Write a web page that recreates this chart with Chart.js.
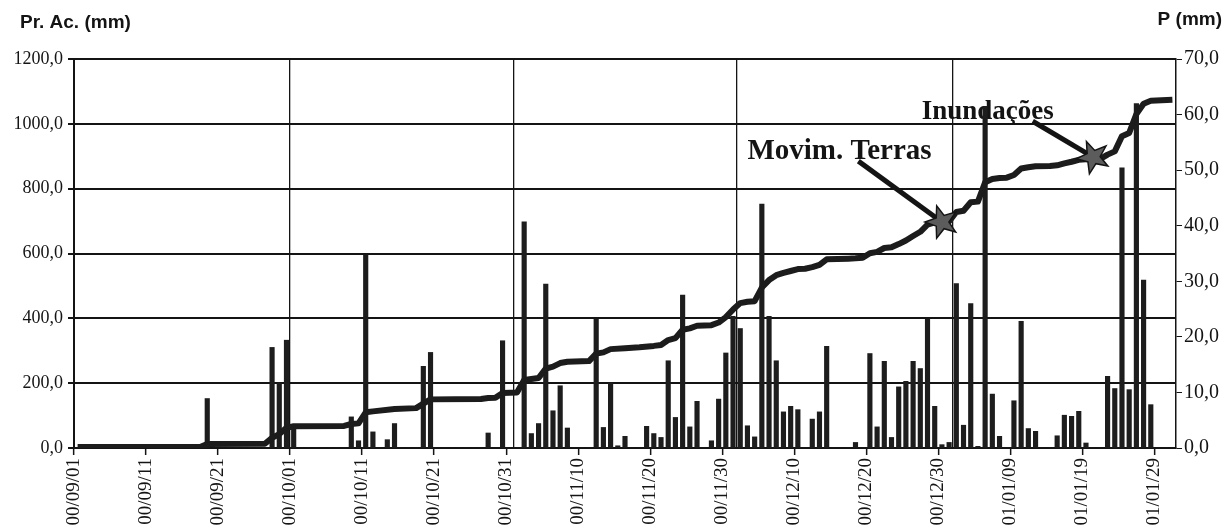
<!DOCTYPE html>
<html>
<head>
<meta charset="utf-8">
<script src="https://cdn.jsdelivr.net/npm/chart.js@4.4.0/dist/chart.umd.min.js"></script>
<style>
  html, body { margin: 0; padding: 0; background: #fff; }
  #wrap { width: 1223px; height: 529px; }
</style>
</head>
<body>
<div id="wrap"><canvas id="chart" width="1223" height="529"></canvas></div>
<script>
// days 00/09/01 .. 01/01/31
const days = [];
for (let i = 0; i < 153; i++) {
  const d = new Date(2000, 8, 1 + i);
  const yy = String(d.getFullYear() % 100).padStart(2, '0');
  const mm = String(d.getMonth() + 1).padStart(2, '0');
  const dd = String(d.getDate()).padStart(2, '0');
  days.push(yy + '/' + mm + '/' + dd);
}

// daily precipitation P (mm), one value per day
const rain = [
  0, 0, 0, 0, 0, 0, 0, 0, 0, 0,
  0, 0, 0, 0, 0, 0, 0, 0, 8.9, 0,
  0, 0, 0, 0, 0, 0, 0, 18.1, 11.7, 19.4,
  4.0, 0, 0, 0, 0, 0, 0, 0, 5.6, 1.3,
  34.7, 2.9, 0, 1.5, 4.4, 0, 0, 0, 14.7, 17.2,
  0, 0, 0, 0, 0, 0, 0, 2.7, 0, 19.3,
  0, 0, 40.7, 2.6, 4.4, 29.5, 6.7, 11.2, 3.6, 0,
  0, 0, 23.2, 3.7, 11.7, 0.4, 2.1, 0, 0, 3.9,
  2.6, 1.9, 15.7, 5.5, 27.5, 3.8, 8.4, 0, 1.3, 8.8,
  17.1, 23.7, 21.5, 4.0, 2.0, 43.9, 23.7, 15.7, 6.5, 7.5,
  6.9, 0, 5.2, 6.5, 18.3, 0, 0, 0, 1.0, 0,
  17.0, 3.8, 15.6, 1.9, 11.0, 12.0, 15.6, 14.3, 23.2, 7.5,
  0.6, 1.0, 29.6, 4.1, 26.0, 0.3, 61.5, 9.7, 2.1, 0,
  8.5, 22.8, 3.5, 3.0, 0, 0, 2.2, 5.9, 5.7, 6.6,
  0.9, 0, 0, 12.9, 10.7, 50.4, 10.5, 62.0, 30.2, 7.8,
  0, 0, 0,
];

// accumulated precipitation Pr. Ac. (mm), read at the days where it changes
const cumDay = [0, 17, 18, 26, 27, 28, 29, 30, 37, 38, 39, 40, 41, 44, 47, 48, 49,
  56, 57, 58, 59, 61, 62, 64, 65, 66, 67, 68, 71, 72, 73, 74, 76, 78, 80, 81, 82, 83,
  84, 85, 86, 88, 89, 90, 91, 92, 93, 94, 95, 96, 97, 98, 99, 100, 101, 102, 103, 104,
  107, 108, 109, 110, 111, 112, 113, 114, 115, 116, 117, 118, 119, 121, 122, 123, 124,
  125, 126, 127, 128, 129, 130, 131, 132, 133, 135, 136, 137, 138, 139, 140, 142, 143,
  144, 145, 146, 147, 148, 149, 152];
const cumValue = [3, 3, 12, 13, 31, 43, 62, 67, 68, 74, 76, 110, 113, 120, 123, 137, 150,
  151, 154, 155, 170, 171, 210, 216, 245, 251, 262, 266, 268, 291, 295, 305, 308, 311, 315, 318, 333, 339,
  365, 369, 377, 379, 387, 404, 427, 447, 451, 453, 495, 518, 533, 540, 546, 552, 553, 558, 565, 582,
  584, 585, 587, 601, 605, 617, 619, 629, 640, 654, 667, 689, 696, 699, 728, 732, 758,
  760, 820, 830, 833, 834, 842, 862, 866, 869, 870, 872, 878, 883, 889, 891, 892, 905,
  915, 962, 972, 1030, 1062, 1071, 1074];

const gridDays = [30, 61, 92, 122];

// annotations: text and arrow anchored on the scales (day index, Pr. Ac. value)
const notes = [
  { text: 'Movim. Terras', size: 29, textDay: 93, textVal: 893, tailDay: 108.4, tailVal: 885, headDay: 120, headVal: 697 },
  { text: 'Inundações', size: 27, textDay: 117.2, textVal: 1016, tailDay: 132.6, tailVal: 1008, headDay: 141, headVal: 897 },
];

const INK = '#141414';
const SERIF = '"Liberation Serif", "Times New Roman", serif';

const notesPlugin = {
  id: 'notes',
  beforeDatasetsDraw(chart) {
    const { ctx, scales: { x, y } } = chart;
    ctx.save();
    ctx.fillStyle = INK;
    ctx.textAlign = 'left';
    ctx.textBaseline = 'alphabetic';
    notes.forEach(n => {
      ctx.font = 'bold ' + n.size + 'px ' + SERIF;
      ctx.fillText(n.text, x.getPixelForValue(n.textDay), y.getPixelForValue(n.textVal));
    });
    ctx.restore();
  },
  afterDatasetsDraw(chart) {
    const { ctx, scales: { x, y } } = chart;
    ctx.save();
    ctx.fillStyle = INK;
    ctx.font = 'bold 19px "Liberation Sans", Arial, sans-serif';
    ctx.textAlign = 'left';
    ctx.fillText('Pr. Ac. (mm)', 20, 28);
    ctx.textAlign = 'right';
    ctx.fillText('P (mm)', 1222, 25);

    notes.forEach(n => {
      const hx = x.getPixelForValue(n.headDay), hy = y.getPixelForValue(n.headVal);
      const tx = x.getPixelForValue(n.tailDay), ty = y.getPixelForValue(n.tailVal);
      ctx.strokeStyle = INK;
      ctx.lineWidth = 5;
      ctx.beginPath();
      ctx.moveTo(tx, ty);
      ctx.lineTo(hx, hy);
      ctx.stroke();
      const ang = Math.atan2(hy - ty, hx - tx);
      ctx.beginPath();
      for (let k = 0; k < 10; k++) {
        const r = k % 2 === 0 ? 17 : 7;
        const a = ang + k * Math.PI / 5;
        ctx.lineTo(hx + r * Math.cos(a), hy + r * Math.sin(a));
      }
      ctx.closePath();
      ctx.fillStyle = '#5c5c5c';
      ctx.fill();
      ctx.lineWidth = 1.5;
      ctx.stroke();
    });
    ctx.restore();
  },
};

const fmt = v => v.toFixed(1).replace('.', ',');

new Chart(document.getElementById('chart').getContext('2d'), {
  data: {
    labels: days,
    datasets: [
      {
        type: 'line',
        label: 'Pr. Ac.',
        data: cumDay.map((d, i) => ({ x: days[d], y: cumValue[i] })),
        yAxisID: 'y',
        borderColor: '#1c1c1c',
        borderWidth: 6,
        pointRadius: 0,
        tension: 0,
        borderJoinStyle: 'round',
        order: 1,
      },
      {
        type: 'bar',
        label: 'P',
        data: rain,
        yAxisID: 'y1',
        backgroundColor: '#1d1d1d',
        barThickness: 4.5,
        order: 2,
      },
    ],
  },
  options: {
    responsive: false,
    animation: false,
    devicePixelRatio: 1,
    layout: { padding: { top: 59, left: 0, right: 0, bottom: 0 } },
    plugins: {
      legend: { display: false },
      tooltip: { enabled: false },
    },
    scales: {
      x: {
        type: 'category',
        offset: true,
        afterFit: s => { s.height = 81; },
        grid: {
          offset: true,
          color: c => gridDays.includes(c.index) ? INK : 'rgba(0,0,0,0)',
          lineWidth: 1.3,
          tickLength: 7,
          tickColor: c => c.index % 10 === 0 ? INK : 'rgba(0,0,0,0)',
          tickWidth: 1.5,
        },
        border: { color: INK, width: 2 },
        ticks: {
          autoSkip: false,
          maxRotation: 90,
          minRotation: 90,
          labelOffset: -3.6,
          padding: 3,
          color: INK,
          font: { family: SERIF, size: 19 },
          callback: (v, i) => i % 10 === 0 ? days[i] : '',
        },
      },
      y: {
        position: 'left',
        min: 0,
        max: 1200,
        afterFit: s => { s.width = 74; },
        grid: { color: INK, lineWidth: 2, tickLength: 6, tickColor: INK },
        border: { color: INK, width: 2 },
        ticks: {
          stepSize: 200,
          padding: 5,
          color: INK,
          font: { family: SERIF, size: 18 },
          callback: fmt,
        },
      },
      y1: {
        position: 'right',
        min: 0,
        max: 70,
        afterFit: s => { s.width = 47; },
        grid: { drawOnChartArea: false, tickLength: 6, tickColor: INK },
        border: { color: INK, width: 1.5 },
        ticks: {
          stepSize: 10,
          padding: 2,
          color: INK,
          font: { family: SERIF, size: 20 },
          callback: fmt,
        },
      },
    },
  },
  plugins: [notesPlugin],
});
</script>
</body>
</html>
